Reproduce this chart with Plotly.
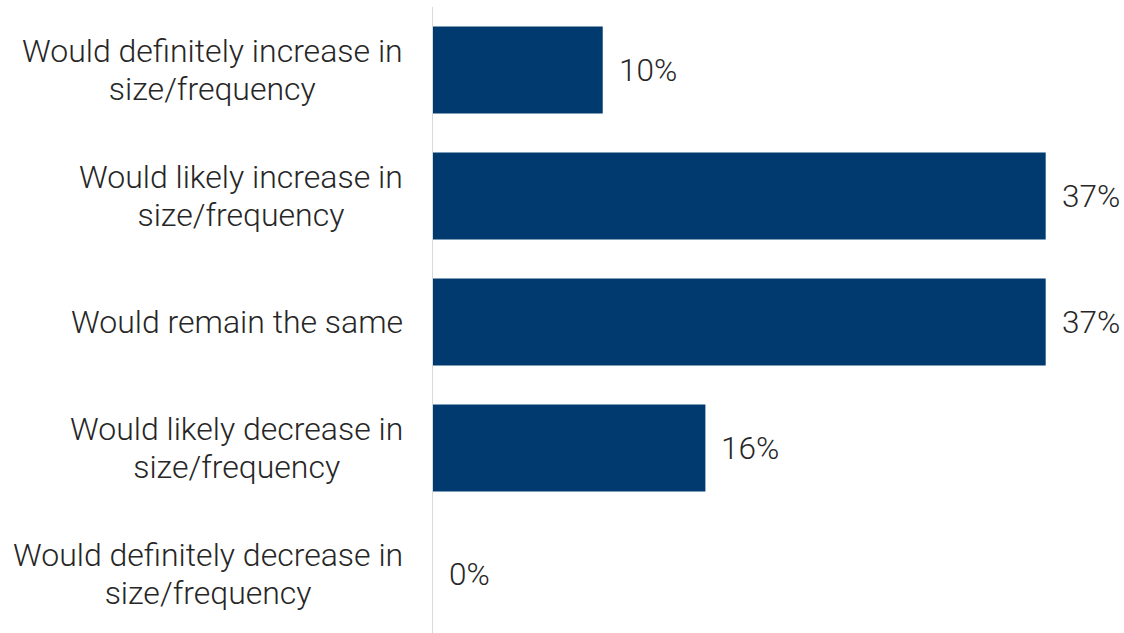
import plotly.graph_objects as go

categories = [
    "Would definitely increase in<br>size/frequency",
    "Would likely increase in<br>size/frequency",
    "Would remain the same",
    "Would likely decrease in<br>size/frequency",
    "Would definitely decrease in<br>size/frequency",
]
values = [10.25, 37.0, 37.0, 16.45, 0.0]
value_labels = ["10%", "37%", "37%", "16%", "0%"]

BAR = "#003A6F"
TXT = "#262626"
FONT = "Roboto"
FS = 31.5
LFS = 32
BASE = 29.2  # base size so that 1.3em line spacing ~ 38px

fig = go.Figure()
fig.add_trace(go.Bar(
    x=values, y=categories, orientation="h",
    marker=dict(color=BAR, line=dict(width=0)),
    hoverinfo="skip",
))

annotations = []
for c, v, t in zip(categories, values, value_labels):
    annotations.append(dict(
        x=v, y=c, xref="x", yref="y", text=t, showarrow=False,
        xanchor="left", xshift=14,
        font=dict(family=FONT, size=FS, color=TXT, weight=300),
    ))
    styled = "<br>".join(
        f'<span style="font-size:{LFS}px">{ln}</span>' for ln in c.split("<br>")
    )
    annotations.append(dict(
        x=0, y=c, xref="paper", yref="y", text=styled, showarrow=False,
        xanchor="right", xshift=-28, align="center", yanchor="middle",
        font=dict(family=FONT, size=BASE, color=TXT, weight=300),
    ))

fig.update_layout(
    width=1124, height=633,
    margin=dict(l=433, r=0, t=7, b=0),
    paper_bgcolor="white", plot_bgcolor="white",
    bargap=0.31,
    showlegend=False,
    annotations=annotations,
    xaxis=dict(range=[0, 41.73], visible=False, fixedrange=True),
    yaxis=dict(
        type="category", categoryorder="array", categoryarray=categories,
        range=[4.468, -0.5], showticklabels=False, showgrid=False,
        zeroline=False, showline=True, linecolor="#D9D9D9", linewidth=1.5,
        ticks="", fixedrange=True,
    ),
)

fig.write_html(
    "out.html",
    config={"displayModeBar": False, "staticPlot": True},
    post_script="document.body.style.margin='0';document.body.style.overflow='hidden';",
)
